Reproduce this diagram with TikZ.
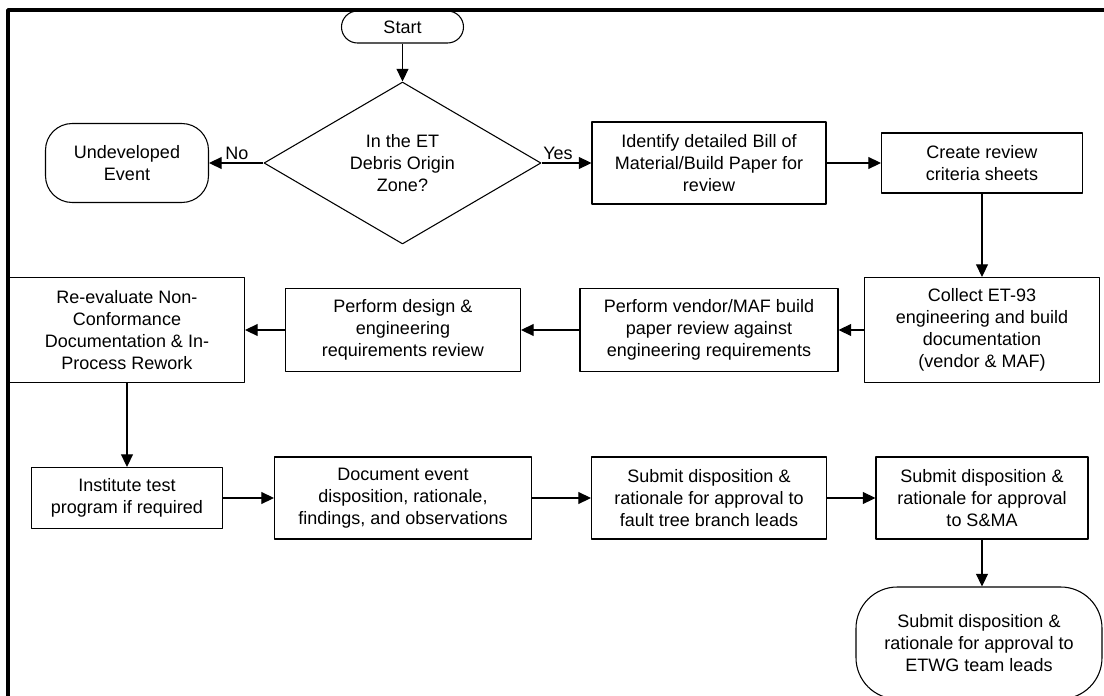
\documentclass[tikz,border=0pt]{standalone}
\usepackage{fontspec}
\setmainfont{Liberation Sans}
\usetikzlibrary{arrows.meta,shapes.geometric}

\begin{document}
\begin{tikzpicture}[x=0.75pt,y=-0.75pt,line join=round,
  every node/.style={font=\fontsize{13.5}{16.4}\selectfont,align=center,inner sep=0pt},
  procbox/.style={draw,line width=0.8pt,rectangle},
  termbox/.style={draw,line width=0.8pt,rectangle,rounded corners=#1},
  decbox/.style={draw,line width=0.8pt,diamond},
  flow/.style={line width=0.8pt,-{Triangle[length=9.5pt,width=9pt]}}]
\useasboundingbox (0,0) rectangle (1104,696);
\clip (0,0) rectangle (1104,696);

% ---- frame ----
\draw[line width=2.6pt] (8,700) |- (1110,10);

% ---- top row ----
\node[termbox=12pt,minimum width=91.5pt,minimum height=24pt] (start) at (402.5,27) {Start};
\node[decbox,minimum width=207.75pt,minimum height=112.5pt] (zone) at (402.5,163) {In the ET\\Debris Origin\\Zone?};
\node[termbox=20pt,minimum width=122.25pt,minimum height=59.25pt] (undev) at (127,163) {Undeveloped\\Event};
\node[procbox,minimum width=175.5pt,minimum height=61.5pt] (ident) at (709,163) {Identify detailed Bill of\\Material/Build Paper for\\review};
\node[procbox,minimum width=150.75pt,minimum height=45pt] (crit) at (982,163) {Create review\\criteria sheets};

% ---- middle row ----
\node[procbox,minimum width=176.25pt,minimum height=78.75pt] (collect) at (982,330) {Collect ET-93\\engineering and build\\documentation\\(vendor \& MAF)};
\node[procbox,minimum width=193.5pt,minimum height=62.25pt] (vendor) at (709,330) {Perform vendor/MAF build\\paper review against\\engineering requirements};
\node[procbox,minimum width=176.25pt,minimum height=62.25pt] (design) at (403,330) {Perform design \&\\engineering\\requirements review};
\node[procbox,minimum width=176.25pt,minimum height=78.75pt] (reeval) at (127,330) {Re-evaluate Non-\\Conformance\\Documentation \& In-\\Process Rework};

% ---- bottom row ----
\node[procbox,minimum width=143.25pt,minimum height=45.75pt] (inst) at (127,498) {Institute test\\program if required};
\node[procbox,minimum width=192.75pt,minimum height=61.5pt] (docu) at (403,498) {Document event\\disposition, rationale,\\findings, and observations};
\node[procbox,minimum width=176.25pt,minimum height=61.5pt] (fault) at (709,498) {Submit disposition \&\\rationale for approval to\\fault tree branch leads};
\node[procbox,minimum width=159pt,minimum height=61.5pt] (sma) at (982,498) {Submit disposition \&\\rationale for approval\\to S\&MA};
\node[termbox=31pt,minimum width=184.5pt,minimum height=84pt] (etwg) at (979,643) {Submit disposition \&\\rationale for approval to\\ETWG team leads};

% ---- connectors ----
\draw[flow] (start) -- (zone);
\draw[flow] (zone) -- node[above=2pt,pos=0.49]{No} (undev);
\draw[flow] (zone) -- node[above=2pt,pos=0.33]{Yes} (ident);
\draw[flow] (ident) -- (crit);
\draw[flow] (crit) -- (collect);
\draw[flow] (collect) -- (vendor);
\draw[flow] (vendor) -- (design);
\draw[flow] (design) -- (reeval);
\draw[flow] (reeval) -- (inst);
\draw[flow] (inst) -- (docu);
\draw[flow] (docu) -- (fault);
\draw[flow] (fault) -- (sma);
\draw[flow] (sma) -- (sma |- etwg.north);
\end{tikzpicture}
\end{document}
